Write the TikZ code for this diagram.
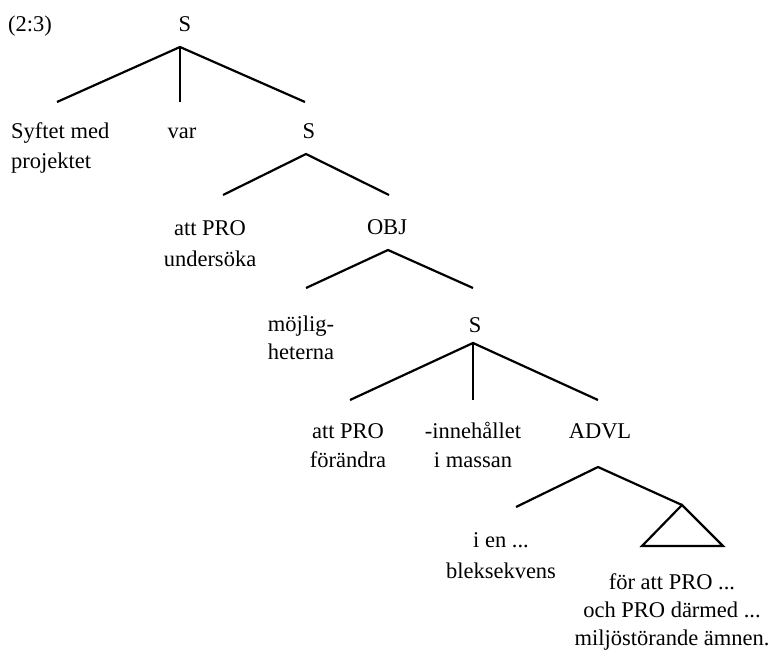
\documentclass[tikz,border=0pt]{standalone}
\usepackage{fontspec}
\setmainfont{Liberation Serif}
\begin{document}
\begin{tikzpicture}[x=1pt,y=-1pt,
  lbl/.style={inner sep=0pt,anchor=base,align=center,font=\fontsize{22.5}{30}\selectfont},
  branch/.style={line width=2.2pt,line join=miter,line cap=butt}]
\useasboundingbox (0,0) rectangle (773,652);

% labels, placed by the baseline of their last line
\node[lbl] (num) at (30,32) {(2:3)};
\node[lbl] (s1) at (185,32) {S};
\node[lbl,align=left,anchor=base west] (syf) at (11,169) {Syftet med\\projektet};
\node[lbl] (var) at (182,139) {var};
\node[lbl] (s2) at (309,139) {S};
\node[lbl,font=\fontsize{22.5}{31}\selectfont] (und) at (210,266) {att PRO\\undersöka};
\node[lbl] (obj) at (387,235) {OBJ};
\node[lbl,font=\fontsize{22.5}{28}\selectfont] (moj) at (301,359) {möjlig-\\heterna};
\node[lbl] (s3) at (475,332) {S};
\node[lbl,font=\fontsize{22.5}{29}\selectfont] (for) at (348,467) {att PRO\\förändra};
\node[lbl,font=\fontsize{22.5}{29}\selectfont] (inn) at (473,467) {-innehållet\\i massan};
\node[lbl] (advl) at (600,438) {ADVL};
\node[lbl,font=\fontsize{22.5}{31}\selectfont] (ien) at (501,578) {i en ...\\bleksekvens};
\node[lbl,font=\fontsize{22.5}{28}\selectfont] (fat) at (672,645) {för att PRO ...\\och PRO därmed ...\\miljöstörande ämnen.};

% branch points
\coordinate (a1) at (180,47);
\coordinate (e1a) at (57,102);
\coordinate (e1b) at (180,102);
\coordinate (e1c) at (305,102);
\coordinate (a2) at (306,154);
\coordinate (e2a) at (223,195);
\coordinate (e2b) at (389,195);
\coordinate (a3) at (388,250);
\coordinate (e3a) at (306,288);
\coordinate (e3b) at (473,288);
\coordinate (a4) at (473,343);
\coordinate (e4a) at (350,400);
\coordinate (e4b) at (473,400);
\coordinate (e4c) at (598,400);
\coordinate (a5) at (598,467);
\coordinate (e5a) at (516,507);
\coordinate (e5b) at (682,505);
\coordinate (t1) at (642,546);
\coordinate (t2) at (723,546);

% branches
\draw[branch] (e1a) -- (a1) -- (e1c);
\draw[branch] (a1) -- (e1b);
\draw[branch] (e2a) -- (a2) -- (e2b);
\draw[branch] (e3a) -- (a3) -- (e3b);
\draw[branch] (e4a) -- (a4) -- (e4c);
\draw[branch] (a4) -- (e4b);
\draw[branch] (e5a) -- (a5) -- (e5b);
\draw[branch] (e5b) -- (t1) -- (t2) -- cycle;
\end{tikzpicture}
\end{document}
